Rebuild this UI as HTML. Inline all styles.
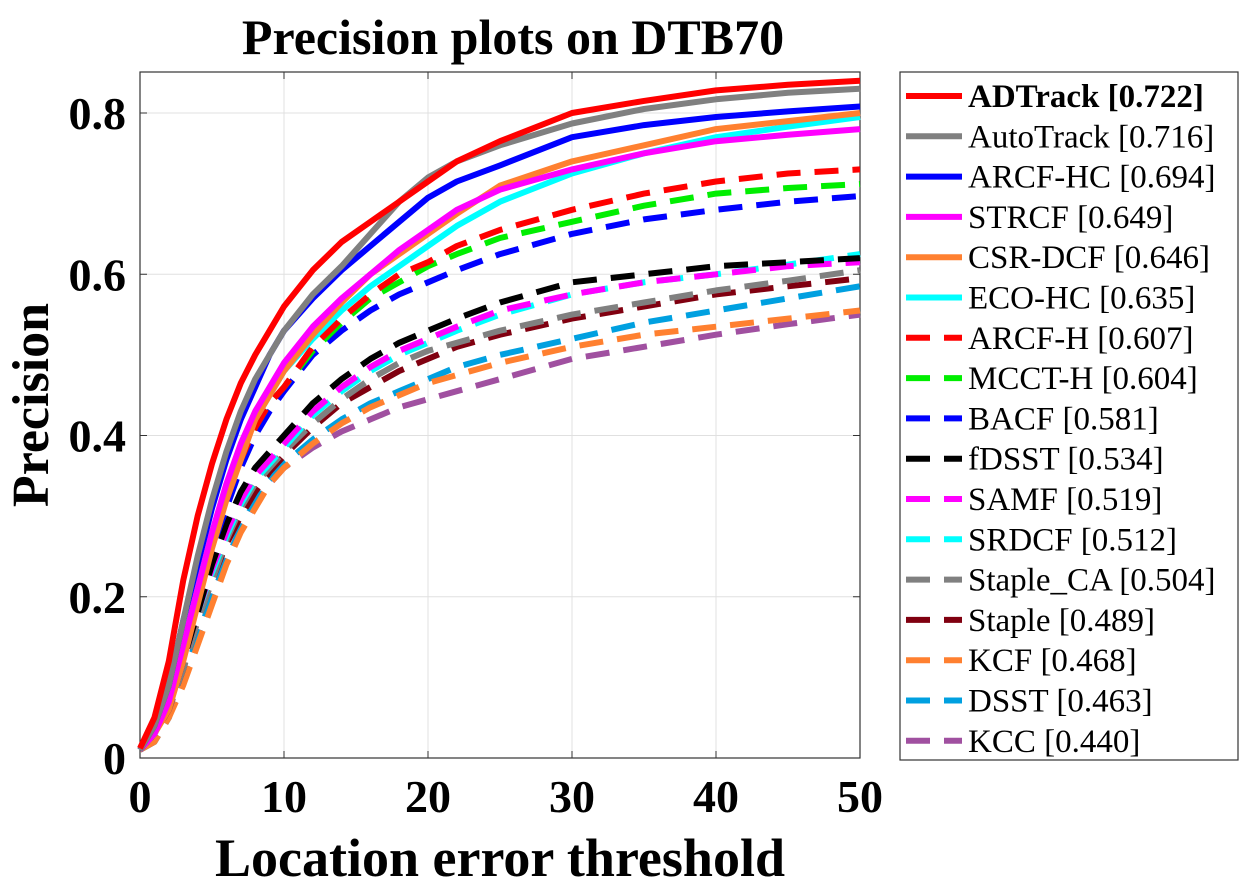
<!DOCTYPE html>
<html><head><meta charset="utf-8"><style>
body{margin:0;background:#fff;width:1242px;height:887px;overflow:hidden}
text{font-family:"Liberation Serif",serif}
</style></head><body>
<svg id="chart" width="1242" height="887" xmlns="http://www.w3.org/2000/svg"></svg>
<script>
const xs=[0,1,2,3,4,5,6,7,8,9,10,12,14,16,18,20,22,25,30,35,40,45,50];
const xTicks=[0,10,20,30,40,50];
const yTicks=[0,0.2,0.4,0.6,0.8];
const names=["ADTrack [0.722]","AutoTrack [0.716]","ARCF-HC [0.694]","STRCF [0.649]","CSR-DCF [0.646]","ECO-HC [0.635]","ARCF-H [0.607]","MCCT-H [0.604]","BACF [0.581]","fDSST [0.534]","SAMF [0.519]","SRDCF [0.512]","Staple_CA [0.504]","Staple [0.489]","KCF [0.468]","DSST [0.463]","KCC [0.440]"];
const colors=["#ff0000","#808080","#0000ff","#ff00ff","#ff8030","#00ffff","#ff0000","#00ee00","#0000ff","#000000","#ff00ff","#00ffff","#808080","#800010","#ff8030","#00a0e0","#a050a0"];
const dashed=[0,0,0,0,0,0,1,1,1,1,1,1,1,1,1,1,1];
const s0=[0.012,0.05,0.12,0.22,0.30,0.365,0.42,0.465,0.50,0.53,0.56,0.605,0.64,0.665,0.69,0.715,0.74,0.765,0.80,0.815,0.828,0.835,0.84];
const s1=[0.01,0.04,0.09,0.17,0.25,0.32,0.38,0.43,0.47,0.50,0.53,0.575,0.61,0.65,0.69,0.72,0.74,0.76,0.787,0.805,0.817,0.825,0.83];
const s2=[0.01,0.04,0.09,0.17,0.24,0.31,0.37,0.42,0.46,0.50,0.53,0.57,0.605,0.635,0.665,0.695,0.715,0.735,0.77,0.785,0.795,0.802,0.808];
const s3=[0.01,0.03,0.07,0.14,0.21,0.28,0.34,0.39,0.43,0.46,0.49,0.535,0.57,0.60,0.63,0.655,0.68,0.705,0.73,0.75,0.765,0.773,0.78];
const s4=[0.01,0.03,0.06,0.12,0.19,0.26,0.32,0.37,0.42,0.45,0.48,0.525,0.565,0.60,0.625,0.65,0.675,0.71,0.74,0.76,0.78,0.79,0.80];
const s5=[0.01,0.03,0.07,0.13,0.2,0.27,0.33,0.38,0.42,0.45,0.48,0.52,0.555,0.585,0.61,0.635,0.66,0.69,0.725,0.75,0.77,0.783,0.795];
const s6=[0.01,0.03,0.07,0.13,0.2,0.26,0.32,0.37,0.41,0.44,0.46,0.51,0.545,0.575,0.60,0.615,0.635,0.655,0.68,0.70,0.715,0.725,0.73];
const s7=[0.01,0.03,0.07,0.13,0.2,0.26,0.32,0.37,0.41,0.44,0.46,0.505,0.54,0.57,0.59,0.61,0.625,0.645,0.665,0.685,0.70,0.707,0.712];
const s8=[0.01,0.03,0.07,0.13,0.2,0.26,0.31,0.36,0.40,0.43,0.455,0.50,0.53,0.555,0.575,0.59,0.605,0.625,0.65,0.668,0.68,0.69,0.697];
const s9=[0.01,0.03,0.06,0.12,0.18,0.24,0.29,0.33,0.36,0.38,0.40,0.44,0.47,0.495,0.515,0.53,0.545,0.565,0.59,0.60,0.61,0.615,0.62];
const s10=[0.01,0.03,0.06,0.12,0.18,0.235,0.28,0.32,0.35,0.37,0.39,0.43,0.46,0.485,0.505,0.52,0.535,0.555,0.575,0.59,0.60,0.61,0.615];
const s11=[0.01,0.03,0.06,0.12,0.18,0.23,0.275,0.315,0.345,0.365,0.385,0.425,0.455,0.48,0.50,0.515,0.53,0.55,0.575,0.59,0.60,0.612,0.625];
const s12=[0.01,0.03,0.06,0.11,0.17,0.22,0.27,0.31,0.34,0.36,0.38,0.415,0.445,0.47,0.49,0.505,0.515,0.53,0.55,0.565,0.58,0.592,0.605];
const s13=[0.01,0.03,0.06,0.11,0.17,0.22,0.265,0.30,0.33,0.355,0.375,0.41,0.44,0.46,0.48,0.495,0.51,0.525,0.545,0.56,0.575,0.585,0.595];
const s14=[0.01,0.02,0.05,0.09,0.14,0.19,0.24,0.28,0.31,0.34,0.36,0.39,0.415,0.435,0.45,0.465,0.475,0.49,0.51,0.525,0.535,0.545,0.555];
const s15=[0.01,0.02,0.05,0.10,0.15,0.20,0.245,0.285,0.32,0.345,0.365,0.395,0.42,0.44,0.455,0.47,0.485,0.50,0.52,0.54,0.555,0.57,0.585];
const s16=[0.01,0.02,0.05,0.10,0.15,0.20,0.245,0.285,0.315,0.34,0.36,0.385,0.405,0.42,0.435,0.445,0.455,0.47,0.495,0.51,0.525,0.538,0.55];
const series=[s0,s1,s2,s3,s4,s5,s6,s7,s8,s9,s10,s11,s12,s13,s14,s15,s16];

const L=140,R=860,T=72,B=758,YMAX=(758-72)/806.25;
const X=v=>L+(v/50)*(R-L);
const Y=v=>B-(v/YMAX)*(B-T);
const svg=document.getElementById('chart');
const NS="http://www.w3.org/2000/svg";
function mk(tag,attrs,parent){const e=document.createElementNS(NS,tag);for(const k in attrs)e.setAttribute(k,attrs[k]);(parent||svg).appendChild(e);return e;}

const t=mk('text',{x:513,y:54,'text-anchor':'middle','font-size':50,'font-weight':'bold'});t.textContent="Precision plots on DTB70";


xTicks.forEach(v=>{const g=mk('line',{x1:X(v),x2:X(v),y1:T,y2:B,stroke:'#e0e0e0','stroke-width':1});


const tk=mk('text',{x:X(v),y:B+54,'text-anchor':'middle','font-size':46,'font-weight':'bold'});tk.textContent=v;


mk('line',{x1:X(v),x2:X(v),y1:B,y2:B-7,stroke:'#333','stroke-width':1});
mk('line',{x1:X(v),x2:X(v),y1:T,y2:T+7,stroke:'#333','stroke-width':1});});
yTicks.forEach(v=>{const g=mk('line',{x1:L,x2:R,y1:Y(v),y2:Y(v),stroke:'#e0e0e0','stroke-width':1});


const tk=mk('text',{x:L-14,y:Y(v)+16,'text-anchor':'end','font-size':46,'font-weight':'bold'});tk.textContent=v===0?"0":v.toFixed(1);


mk('line',{x1:L,x2:L+7,y1:Y(v),y2:Y(v),stroke:'#333','stroke-width':1});
mk('line',{x1:R,x2:R-7,y1:Y(v),y2:Y(v),stroke:'#333','stroke-width':1});});
const fr=mk('rect',{x:L,y:T,width:R-L,height:B-T,fill:'none',stroke:'#333','stroke-width':1.2});


for(let i=series.length-1;i>=0;i--){
 const pts=xs.map((x,j)=>X(x).toFixed(1)+','+Y(series[i][j]).toFixed(1)).join(' ');
 const p=mk('polyline',{points:pts,fill:'none',stroke:colors[i],'stroke-width':6,'stroke-linejoin':'round'});
 if(dashed[i])p.setAttribute('stroke-dasharray','24 14');
 
 
}
const yl=mk('text',{x:48,y:405,'text-anchor':'middle','font-size':52,'font-weight':'bold',transform:'rotate(-90 48 405)'});yl.textContent="Precision";


const xl=mk('text',{x:500,y:876,'text-anchor':'middle','font-size':54,'font-weight':'bold'});xl.textContent="Location error threshold";


const lg=mk('g',{});


mk('rect',{x:900,y:72,width:338,height:688,fill:'#fff',stroke:'#333','stroke-width':1.2},lg);
names.forEach((n,i)=>{const y=96+i*40.3;
 const l=mk('line',{x1:906,x2:962,y1:y,y2:y,stroke:colors[i],'stroke-width':6},lg);
 if(dashed[i])l.setAttribute('stroke-dasharray','24 14');
 
 
 const tx=mk('text',{x:968,y:y+11,'font-size':33,'font-weight':i===0?'bold':'normal'},lg);tx.textContent=n;
 
 
});
</script>
</body></html>
